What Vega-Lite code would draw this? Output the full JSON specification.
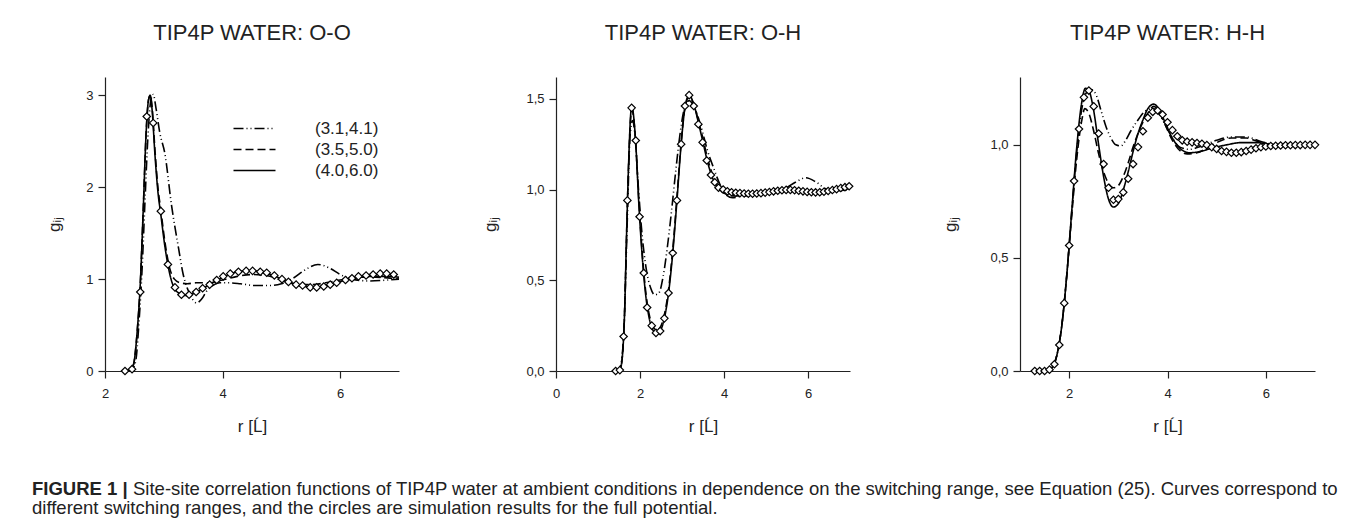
{
  "$schema": "https://vega.github.io/schema/vega-lite/v6.json",
  "padding": {"left": 32, "top": 22, "right": 5, "bottom": 5},
  "config": {
    "font": "Liberation Sans",
    "view": {"stroke": null},
    "axis": {"grid": false, "domainColor": "#222", "tickColor": "#222", "labelColor": "#222", "titleColor": "#222", "tickSize": 7, "labelFontSize": 13, "titleFontSize": 17, "titleFontWeight": "normal", "domainWidth": 1.2, "tickWidth": 1.2, "labelFont": "Liberation Sans", "titleFont": "Liberation Sans", "labelFlush": false},
    "title": {"fontSize": 22, "fontWeight": "normal", "color": "#222", "font": "Liberation Sans"}
  },
  "datasets": {
    "oo_lines": [
      {"r": 2.30, "g": 0.0, "series": "(4.0,6.0)"}, {"r": 2.42, "g": 0.01, "series": "(4.0,6.0)"}, {"r": 2.48, "g": 0.06, "series": "(4.0,6.0)"}, {"r": 2.55, "g": 0.45, "series": "(4.0,6.0)"}, {"r": 2.60, "g": 0.95, "series": "(4.0,6.0)"}, {"r": 2.65, "g": 1.75, "series": "(4.0,6.0)"}, {"r": 2.70, "g": 2.6, "series": "(4.0,6.0)"}, {"r": 2.74, "g": 2.95, "series": "(4.0,6.0)"}, {"r": 2.77, "g": 3.0, "series": "(4.0,6.0)"}, {"r": 2.80, "g": 2.85, "series": "(4.0,6.0)"}, {"r": 2.85, "g": 2.35, "series": "(4.0,6.0)"}, {"r": 2.90, "g": 1.95, "series": "(4.0,6.0)"}, {"r": 2.95, "g": 1.7, "series": "(4.0,6.0)"}, {"r": 3.02, "g": 1.35, "series": "(4.0,6.0)"}, {"r": 3.10, "g": 1.06, "series": "(4.0,6.0)"}, {"r": 3.18, "g": 0.9, "series": "(4.0,6.0)"}, {"r": 3.28, "g": 0.84, "series": "(4.0,6.0)"}, {"r": 3.40, "g": 0.82, "series": "(4.0,6.0)"}, {"r": 3.55, "g": 0.86, "series": "(4.0,6.0)"}, {"r": 3.75, "g": 0.93, "series": "(4.0,6.0)"}, {"r": 4.0, "g": 1.02, "series": "(4.0,6.0)"}, {"r": 4.25, "g": 1.08, "series": "(4.0,6.0)"}, {"r": 4.45, "g": 1.09, "series": "(4.0,6.0)"}, {"r": 4.65, "g": 1.08, "series": "(4.0,6.0)"}, {"r": 4.9, "g": 1.03, "series": "(4.0,6.0)"}, {"r": 5.15, "g": 0.96, "series": "(4.0,6.0)"}, {"r": 5.4, "g": 0.92, "series": "(4.0,6.0)"}, {"r": 5.6, "g": 0.91, "series": "(4.0,6.0)"}, {"r": 5.85, "g": 0.94, "series": "(4.0,6.0)"}, {"r": 6.1, "g": 0.99, "series": "(4.0,6.0)"}, {"r": 6.35, "g": 1.02, "series": "(4.0,6.0)"}, {"r": 6.6, "g": 1.03, "series": "(4.0,6.0)"}, {"r": 6.85, "g": 1.03, "series": "(4.0,6.0)"}, {"r": 7.0, "g": 1.02, "series": "(4.0,6.0)"},
      {"r": 2.30, "g": 0.0, "series": "(3.5,5.0)"}, {"r": 2.42, "g": 0.01, "series": "(3.5,5.0)"}, {"r": 2.48, "g": 0.06, "series": "(3.5,5.0)"}, {"r": 2.55, "g": 0.45, "series": "(3.5,5.0)"}, {"r": 2.60, "g": 0.95, "series": "(3.5,5.0)"}, {"r": 2.65, "g": 1.75, "series": "(3.5,5.0)"}, {"r": 2.70, "g": 2.6, "series": "(3.5,5.0)"}, {"r": 2.74, "g": 2.95, "series": "(3.5,5.0)"}, {"r": 2.77, "g": 3.0, "series": "(3.5,5.0)"}, {"r": 2.80, "g": 2.88, "series": "(3.5,5.0)"}, {"r": 2.85, "g": 2.4, "series": "(3.5,5.0)"}, {"r": 2.90, "g": 2.0, "series": "(3.5,5.0)"}, {"r": 2.95, "g": 1.75, "series": "(3.5,5.0)"}, {"r": 3.02, "g": 1.4, "series": "(3.5,5.0)"}, {"r": 3.10, "g": 1.12, "series": "(3.5,5.0)"}, {"r": 3.18, "g": 1.0, "series": "(3.5,5.0)"}, {"r": 3.28, "g": 0.96, "series": "(3.5,5.0)"}, {"r": 3.40, "g": 0.95, "series": "(3.5,5.0)"}, {"r": 3.55, "g": 0.96, "series": "(3.5,5.0)"}, {"r": 3.75, "g": 0.96, "series": "(3.5,5.0)"}, {"r": 4.0, "g": 0.99, "series": "(3.5,5.0)"}, {"r": 4.25, "g": 1.03, "series": "(3.5,5.0)"}, {"r": 4.5, "g": 1.05, "series": "(3.5,5.0)"}, {"r": 4.75, "g": 1.04, "series": "(3.5,5.0)"}, {"r": 5.0, "g": 0.99, "series": "(3.5,5.0)"}, {"r": 5.25, "g": 0.95, "series": "(3.5,5.0)"}, {"r": 5.5, "g": 0.94, "series": "(3.5,5.0)"}, {"r": 5.75, "g": 0.96, "series": "(3.5,5.0)"}, {"r": 6.0, "g": 0.99, "series": "(3.5,5.0)"}, {"r": 6.3, "g": 1.02, "series": "(3.5,5.0)"}, {"r": 6.6, "g": 1.02, "series": "(3.5,5.0)"}, {"r": 7.0, "g": 1.0, "series": "(3.5,5.0)"},
      {"r": 2.30, "g": 0.0, "series": "(3.1,4.1)"}, {"r": 2.45, "g": 0.01, "series": "(3.1,4.1)"}, {"r": 2.52, "g": 0.1, "series": "(3.1,4.1)"}, {"r": 2.58, "g": 0.55, "series": "(3.1,4.1)"}, {"r": 2.63, "g": 1.1, "series": "(3.1,4.1)"}, {"r": 2.68, "g": 1.85, "series": "(3.1,4.1)"}, {"r": 2.73, "g": 2.55, "series": "(3.1,4.1)"}, {"r": 2.78, "g": 2.95, "series": "(3.1,4.1)"}, {"r": 2.82, "g": 3.01, "series": "(3.1,4.1)"}, {"r": 2.87, "g": 2.85, "series": "(3.1,4.1)"}, {"r": 2.93, "g": 2.6, "series": "(3.1,4.1)"}, {"r": 3.02, "g": 2.36, "series": "(3.1,4.1)"}, {"r": 3.13, "g": 1.81, "series": "(3.1,4.1)"}, {"r": 3.25, "g": 1.34, "series": "(3.1,4.1)"}, {"r": 3.33, "g": 1.05, "series": "(3.1,4.1)"}, {"r": 3.40, "g": 0.9, "series": "(3.1,4.1)"}, {"r": 3.48, "g": 0.79, "series": "(3.1,4.1)"}, {"r": 3.56, "g": 0.74, "series": "(3.1,4.1)"}, {"r": 3.64, "g": 0.78, "series": "(3.1,4.1)"}, {"r": 3.73, "g": 0.87, "series": "(3.1,4.1)"}, {"r": 3.83, "g": 0.93, "series": "(3.1,4.1)"}, {"r": 3.95, "g": 0.96, "series": "(3.1,4.1)"}, {"r": 4.1, "g": 0.96, "series": "(3.1,4.1)"}, {"r": 4.3, "g": 0.95, "series": "(3.1,4.1)"}, {"r": 4.55, "g": 0.93, "series": "(3.1,4.1)"}, {"r": 4.8, "g": 0.93, "series": "(3.1,4.1)"}, {"r": 5.0, "g": 0.95, "series": "(3.1,4.1)"}, {"r": 5.2, "g": 1.01, "series": "(3.1,4.1)"}, {"r": 5.4, "g": 1.1, "series": "(3.1,4.1)"}, {"r": 5.62, "g": 1.16, "series": "(3.1,4.1)"}, {"r": 5.82, "g": 1.12, "series": "(3.1,4.1)"}, {"r": 6.0, "g": 1.05, "series": "(3.1,4.1)"}, {"r": 6.2, "g": 1.0, "series": "(3.1,4.1)"}, {"r": 6.5, "g": 0.98, "series": "(3.1,4.1)"}, {"r": 6.8, "g": 0.99, "series": "(3.1,4.1)"}, {"r": 7.0, "g": 1.0, "series": "(3.1,4.1)"}
    ],
    "oo_sim": [
      {"r": 2.34, "g": 0.0}, {"r": 2.46, "g": 0.02}, {"r": 2.60, "g": 0.86}, {"r": 2.71, "g": 2.77}, {"r": 2.82, "g": 2.70}, {"r": 2.95, "g": 1.74}, {"r": 3.07, "g": 1.16}, {"r": 3.19, "g": 0.91}, {"r": 3.30, "g": 0.83}, {"r": 3.43, "g": 0.83}, {"r": 3.55, "g": 0.86}, {"r": 3.66, "g": 0.90}, {"r": 3.78, "g": 0.94}, {"r": 3.90, "g": 0.99}, {"r": 4.01, "g": 1.03}, {"r": 4.13, "g": 1.06}, {"r": 4.27, "g": 1.08}, {"r": 4.40, "g": 1.09}, {"r": 4.51, "g": 1.09}, {"r": 4.64, "g": 1.08}, {"r": 4.75, "g": 1.07}, {"r": 4.88, "g": 1.04}, {"r": 5.01, "g": 1.00}, {"r": 5.12, "g": 0.97}, {"r": 5.25, "g": 0.94}, {"r": 5.36, "g": 0.93}, {"r": 5.49, "g": 0.91}, {"r": 5.60, "g": 0.91}, {"r": 5.72, "g": 0.92}, {"r": 5.83, "g": 0.94}, {"r": 5.94, "g": 0.96}, {"r": 6.09, "g": 0.99}, {"r": 6.20, "g": 1.01}, {"r": 6.31, "g": 1.03}, {"r": 6.44, "g": 1.04}, {"r": 6.56, "g": 1.05}, {"r": 6.68, "g": 1.06}, {"r": 6.79, "g": 1.06}, {"r": 6.91, "g": 1.05}
    ],
    "oh_lines": [
      {"r": 1.40, "g": 0.0, "series": "(4.0,6.0)"}, {"r": 1.52, "g": 0.005, "series": "(4.0,6.0)"}, {"r": 1.58, "g": 0.08, "series": "(4.0,6.0)"}, {"r": 1.63, "g": 0.3, "series": "(4.0,6.0)"}, {"r": 1.68, "g": 0.75, "series": "(4.0,6.0)"}, {"r": 1.73, "g": 1.15, "series": "(4.0,6.0)"}, {"r": 1.78, "g": 1.42, "series": "(4.0,6.0)"}, {"r": 1.81, "g": 1.46, "series": "(4.0,6.0)"}, {"r": 1.85, "g": 1.4, "series": "(4.0,6.0)"}, {"r": 1.90, "g": 1.25, "series": "(4.0,6.0)"}, {"r": 1.97, "g": 0.93, "series": "(4.0,6.0)"}, {"r": 2.05, "g": 0.64, "series": "(4.0,6.0)"}, {"r": 2.13, "g": 0.43, "series": "(4.0,6.0)"}, {"r": 2.22, "g": 0.29, "series": "(4.0,6.0)"}, {"r": 2.32, "g": 0.22, "series": "(4.0,6.0)"}, {"r": 2.40, "g": 0.205, "series": "(4.0,6.0)"}, {"r": 2.48, "g": 0.22, "series": "(4.0,6.0)"}, {"r": 2.58, "g": 0.29, "series": "(4.0,6.0)"}, {"r": 2.68, "g": 0.43, "series": "(4.0,6.0)"}, {"r": 2.78, "g": 0.65, "series": "(4.0,6.0)"}, {"r": 2.88, "g": 0.94, "series": "(4.0,6.0)"}, {"r": 2.98, "g": 1.25, "series": "(4.0,6.0)"}, {"r": 3.07, "g": 1.45, "series": "(4.0,6.0)"}, {"r": 3.17, "g": 1.52, "series": "(4.0,6.0)"}, {"r": 3.28, "g": 1.47, "series": "(4.0,6.0)"}, {"r": 3.4, "g": 1.36, "series": "(4.0,6.0)"}, {"r": 3.5, "g": 1.26, "series": "(4.0,6.0)"}, {"r": 3.6, "g": 1.16, "series": "(4.0,6.0)"}, {"r": 3.7, "g": 1.08, "series": "(4.0,6.0)"}, {"r": 3.8, "g": 1.03, "series": "(4.0,6.0)"}, {"r": 3.9, "g": 1.0, "series": "(4.0,6.0)"}, {"r": 4.0, "g": 0.985, "series": "(4.0,6.0)"}, {"r": 4.2, "g": 0.975, "series": "(4.0,6.0)"}, {"r": 4.5, "g": 0.97, "series": "(4.0,6.0)"}, {"r": 4.8, "g": 0.975, "series": "(4.0,6.0)"}, {"r": 5.1, "g": 0.985, "series": "(4.0,6.0)"}, {"r": 5.4, "g": 0.995, "series": "(4.0,6.0)"}, {"r": 5.7, "g": 0.995, "series": "(4.0,6.0)"}, {"r": 6.0, "g": 0.985, "series": "(4.0,6.0)"}, {"r": 6.3, "g": 0.985, "series": "(4.0,6.0)"}, {"r": 6.6, "g": 0.995, "series": "(4.0,6.0)"}, {"r": 7.0, "g": 1.01, "series": "(4.0,6.0)"},
      {"r": 1.40, "g": 0.0, "series": "(3.5,5.0)"}, {"r": 1.52, "g": 0.005, "series": "(3.5,5.0)"}, {"r": 1.58, "g": 0.08, "series": "(3.5,5.0)"}, {"r": 1.63, "g": 0.3, "series": "(3.5,5.0)"}, {"r": 1.68, "g": 0.75, "series": "(3.5,5.0)"}, {"r": 1.73, "g": 1.15, "series": "(3.5,5.0)"}, {"r": 1.78, "g": 1.4, "series": "(3.5,5.0)"}, {"r": 1.81, "g": 1.44, "series": "(3.5,5.0)"}, {"r": 1.85, "g": 1.39, "series": "(3.5,5.0)"}, {"r": 1.90, "g": 1.25, "series": "(3.5,5.0)"}, {"r": 1.97, "g": 0.95, "series": "(3.5,5.0)"}, {"r": 2.05, "g": 0.66, "series": "(3.5,5.0)"}, {"r": 2.13, "g": 0.45, "series": "(3.5,5.0)"}, {"r": 2.22, "g": 0.31, "series": "(3.5,5.0)"}, {"r": 2.32, "g": 0.24, "series": "(3.5,5.0)"}, {"r": 2.40, "g": 0.225, "series": "(3.5,5.0)"}, {"r": 2.48, "g": 0.24, "series": "(3.5,5.0)"}, {"r": 2.58, "g": 0.31, "series": "(3.5,5.0)"}, {"r": 2.68, "g": 0.45, "series": "(3.5,5.0)"}, {"r": 2.78, "g": 0.67, "series": "(3.5,5.0)"}, {"r": 2.88, "g": 0.96, "series": "(3.5,5.0)"}, {"r": 2.98, "g": 1.26, "series": "(3.5,5.0)"}, {"r": 3.07, "g": 1.45, "series": "(3.5,5.0)"}, {"r": 3.17, "g": 1.51, "series": "(3.5,5.0)"}, {"r": 3.28, "g": 1.47, "series": "(3.5,5.0)"}, {"r": 3.4, "g": 1.37, "series": "(3.5,5.0)"}, {"r": 3.5, "g": 1.28, "series": "(3.5,5.0)"}, {"r": 3.6, "g": 1.18, "series": "(3.5,5.0)"}, {"r": 3.7, "g": 1.1, "series": "(3.5,5.0)"}, {"r": 3.8, "g": 1.04, "series": "(3.5,5.0)"}, {"r": 3.9, "g": 1.0, "series": "(3.5,5.0)"}, {"r": 4.0, "g": 0.98, "series": "(3.5,5.0)"}, {"r": 4.2, "g": 0.965, "series": "(3.5,5.0)"}, {"r": 4.5, "g": 0.965, "series": "(3.5,5.0)"}, {"r": 4.8, "g": 0.975, "series": "(3.5,5.0)"}, {"r": 5.1, "g": 0.99, "series": "(3.5,5.0)"}, {"r": 5.4, "g": 1.0, "series": "(3.5,5.0)"}, {"r": 5.7, "g": 1.0, "series": "(3.5,5.0)"}, {"r": 6.0, "g": 0.99, "series": "(3.5,5.0)"}, {"r": 6.3, "g": 0.985, "series": "(3.5,5.0)"}, {"r": 6.6, "g": 0.99, "series": "(3.5,5.0)"}, {"r": 7.0, "g": 1.0, "series": "(3.5,5.0)"},
      {"r": 1.40, "g": 0.0, "series": "(3.1,4.1)"}, {"r": 1.50, "g": 0.005, "series": "(3.1,4.1)"}, {"r": 1.60, "g": 0.15, "series": "(3.1,4.1)"}, {"r": 1.70, "g": 0.85, "series": "(3.1,4.1)"}, {"r": 1.76, "g": 1.28, "series": "(3.1,4.1)"}, {"r": 1.82, "g": 1.38, "series": "(3.1,4.1)"}, {"r": 1.88, "g": 1.3, "series": "(3.1,4.1)"}, {"r": 1.95, "g": 1.05, "series": "(3.1,4.1)"}, {"r": 2.05, "g": 0.75, "series": "(3.1,4.1)"}, {"r": 2.15, "g": 0.56, "series": "(3.1,4.1)"}, {"r": 2.25, "g": 0.46, "series": "(3.1,4.1)"}, {"r": 2.35, "g": 0.42, "series": "(3.1,4.1)"}, {"r": 2.45, "g": 0.43, "series": "(3.1,4.1)"}, {"r": 2.55, "g": 0.52, "series": "(3.1,4.1)"}, {"r": 2.65, "g": 0.68, "series": "(3.1,4.1)"}, {"r": 2.75, "g": 0.88, "series": "(3.1,4.1)"}, {"r": 2.85, "g": 1.1, "series": "(3.1,4.1)"}, {"r": 2.95, "g": 1.3, "series": "(3.1,4.1)"}, {"r": 3.05, "g": 1.44, "series": "(3.1,4.1)"}, {"r": 3.17, "g": 1.49, "series": "(3.1,4.1)"}, {"r": 3.3, "g": 1.45, "series": "(3.1,4.1)"}, {"r": 3.45, "g": 1.35, "series": "(3.1,4.1)"}, {"r": 3.6, "g": 1.22, "series": "(3.1,4.1)"}, {"r": 3.75, "g": 1.12, "series": "(3.1,4.1)"}, {"r": 3.9, "g": 1.03, "series": "(3.1,4.1)"}, {"r": 4.05, "g": 0.97, "series": "(3.1,4.1)"}, {"r": 4.2, "g": 0.955, "series": "(3.1,4.1)"}, {"r": 4.35, "g": 0.96, "series": "(3.1,4.1)"}, {"r": 4.6, "g": 0.975, "series": "(3.1,4.1)"}, {"r": 5.0, "g": 0.985, "series": "(3.1,4.1)"}, {"r": 5.4, "g": 1.0, "series": "(3.1,4.1)"}, {"r": 5.7, "g": 1.04, "series": "(3.1,4.1)"}, {"r": 5.95, "g": 1.065, "series": "(3.1,4.1)"}, {"r": 6.2, "g": 1.04, "series": "(3.1,4.1)"}, {"r": 6.45, "g": 1.0, "series": "(3.1,4.1)"}, {"r": 6.7, "g": 0.99, "series": "(3.1,4.1)"}, {"r": 7.0, "g": 1.01, "series": "(3.1,4.1)"}
    ],
    "oh_sim": [
      {"r": 1.42, "g": 0.0}, {"r": 1.52, "g": 0.005}, {"r": 1.61, "g": 0.19}, {"r": 1.70, "g": 0.94}, {"r": 1.80, "g": 1.45}, {"r": 1.90, "g": 1.27}, {"r": 1.99, "g": 0.85}, {"r": 2.09, "g": 0.54}, {"r": 2.17, "g": 0.35}, {"r": 2.28, "g": 0.25}, {"r": 2.38, "g": 0.21}, {"r": 2.48, "g": 0.22}, {"r": 2.58, "g": 0.29}, {"r": 2.68, "g": 0.43}, {"r": 2.78, "g": 0.65}, {"r": 2.88, "g": 0.94}, {"r": 2.98, "g": 1.25}, {"r": 3.07, "g": 1.46}, {"r": 3.17, "g": 1.52}, {"r": 3.28, "g": 1.46}, {"r": 3.39, "g": 1.36}, {"r": 3.49, "g": 1.26}, {"r": 3.59, "g": 1.16}, {"r": 3.69, "g": 1.08}, {"r": 3.78, "g": 1.04}, {"r": 3.87, "g": 1.01}, {"r": 3.98, "g": 1.0}, {"r": 4.08, "g": 0.99}, {"r": 4.18, "g": 0.985}, {"r": 4.28, "g": 0.982}, {"r": 4.38, "g": 0.98}, {"r": 4.48, "g": 0.978}, {"r": 4.58, "g": 0.977}, {"r": 4.68, "g": 0.977}, {"r": 4.78, "g": 0.978}, {"r": 4.88, "g": 0.98}, {"r": 4.98, "g": 0.983}, {"r": 5.08, "g": 0.986}, {"r": 5.18, "g": 0.99}, {"r": 5.28, "g": 0.993}, {"r": 5.38, "g": 0.996}, {"r": 5.48, "g": 0.998}, {"r": 5.58, "g": 0.998}, {"r": 5.68, "g": 0.996}, {"r": 5.78, "g": 0.993}, {"r": 5.88, "g": 0.99}, {"r": 5.98, "g": 0.987}, {"r": 6.08, "g": 0.985}, {"r": 6.18, "g": 0.984}, {"r": 6.28, "g": 0.985}, {"r": 6.38, "g": 0.988}, {"r": 6.48, "g": 0.992}, {"r": 6.58, "g": 0.997}, {"r": 6.68, "g": 1.002}, {"r": 6.78, "g": 1.008}, {"r": 6.88, "g": 1.013}, {"r": 6.98, "g": 1.018}
    ],
    "hh_lines": [
      {"r": 1.3, "g": 0.0, "series": "(4.0,6.0)"}, {"r": 1.55, "g": 0.002, "series": "(4.0,6.0)"}, {"r": 1.65, "g": 0.015, "series": "(4.0,6.0)"}, {"r": 1.75, "g": 0.07, "series": "(4.0,6.0)"}, {"r": 1.85, "g": 0.2, "series": "(4.0,6.0)"}, {"r": 1.95, "g": 0.42, "series": "(4.0,6.0)"}, {"r": 2.05, "g": 0.7, "series": "(4.0,6.0)"}, {"r": 2.15, "g": 0.98, "series": "(4.0,6.0)"}, {"r": 2.25, "g": 1.18, "series": "(4.0,6.0)"}, {"r": 2.33, "g": 1.25, "series": "(4.0,6.0)"}, {"r": 2.4, "g": 1.24, "series": "(4.0,6.0)"}, {"r": 2.5, "g": 1.15, "series": "(4.0,6.0)"}, {"r": 2.6, "g": 1.0, "series": "(4.0,6.0)"}, {"r": 2.7, "g": 0.86, "series": "(4.0,6.0)"}, {"r": 2.8, "g": 0.76, "series": "(4.0,6.0)"}, {"r": 2.9, "g": 0.725, "series": "(4.0,6.0)"}, {"r": 3.0, "g": 0.74, "series": "(4.0,6.0)"}, {"r": 3.1, "g": 0.8, "series": "(4.0,6.0)"}, {"r": 3.2, "g": 0.88, "series": "(4.0,6.0)"}, {"r": 3.3, "g": 0.97, "series": "(4.0,6.0)"}, {"r": 3.4, "g": 1.05, "series": "(4.0,6.0)"}, {"r": 3.5, "g": 1.11, "series": "(4.0,6.0)"}, {"r": 3.6, "g": 1.16, "series": "(4.0,6.0)"}, {"r": 3.72, "g": 1.18, "series": "(4.0,6.0)"}, {"r": 3.82, "g": 1.16, "series": "(4.0,6.0)"}, {"r": 3.95, "g": 1.1, "series": "(4.0,6.0)"}, {"r": 4.1, "g": 1.03, "series": "(4.0,6.0)"}, {"r": 4.25, "g": 0.985, "series": "(4.0,6.0)"}, {"r": 4.45, "g": 0.965, "series": "(4.0,6.0)"}, {"r": 4.65, "g": 0.97, "series": "(4.0,6.0)"}, {"r": 4.9, "g": 0.985, "series": "(4.0,6.0)"}, {"r": 5.2, "g": 1.0, "series": "(4.0,6.0)"}, {"r": 5.5, "g": 1.01, "series": "(4.0,6.0)"}, {"r": 5.8, "g": 1.01, "series": "(4.0,6.0)"}, {"r": 6.2, "g": 1.0, "series": "(4.0,6.0)"}, {"r": 6.6, "g": 1.0, "series": "(4.0,6.0)"}, {"r": 7.0, "g": 1.0, "series": "(4.0,6.0)"},
      {"r": 1.3, "g": 0.0, "series": "(3.5,5.0)"}, {"r": 1.55, "g": 0.002, "series": "(3.5,5.0)"}, {"r": 1.65, "g": 0.015, "series": "(3.5,5.0)"}, {"r": 1.75, "g": 0.07, "series": "(3.5,5.0)"}, {"r": 1.85, "g": 0.2, "series": "(3.5,5.0)"}, {"r": 1.95, "g": 0.42, "series": "(3.5,5.0)"}, {"r": 2.05, "g": 0.68, "series": "(3.5,5.0)"}, {"r": 2.15, "g": 0.93, "series": "(3.5,5.0)"}, {"r": 2.25, "g": 1.1, "series": "(3.5,5.0)"}, {"r": 2.32, "g": 1.16, "series": "(3.5,5.0)"}, {"r": 2.4, "g": 1.14, "series": "(3.5,5.0)"}, {"r": 2.5, "g": 1.06, "series": "(3.5,5.0)"}, {"r": 2.6, "g": 0.96, "series": "(3.5,5.0)"}, {"r": 2.7, "g": 0.88, "series": "(3.5,5.0)"}, {"r": 2.8, "g": 0.83, "series": "(3.5,5.0)"}, {"r": 2.9, "g": 0.81, "series": "(3.5,5.0)"}, {"r": 3.0, "g": 0.82, "series": "(3.5,5.0)"}, {"r": 3.1, "g": 0.86, "series": "(3.5,5.0)"}, {"r": 3.2, "g": 0.92, "series": "(3.5,5.0)"}, {"r": 3.3, "g": 0.99, "series": "(3.5,5.0)"}, {"r": 3.4, "g": 1.05, "series": "(3.5,5.0)"}, {"r": 3.5, "g": 1.1, "series": "(3.5,5.0)"}, {"r": 3.6, "g": 1.14, "series": "(3.5,5.0)"}, {"r": 3.72, "g": 1.17, "series": "(3.5,5.0)"}, {"r": 3.82, "g": 1.15, "series": "(3.5,5.0)"}, {"r": 3.95, "g": 1.09, "series": "(3.5,5.0)"}, {"r": 4.1, "g": 1.02, "series": "(3.5,5.0)"}, {"r": 4.25, "g": 0.975, "series": "(3.5,5.0)"}, {"r": 4.4, "g": 0.96, "series": "(3.5,5.0)"}, {"r": 4.6, "g": 0.965, "series": "(3.5,5.0)"}, {"r": 4.8, "g": 0.985, "series": "(3.5,5.0)"}, {"r": 5.0, "g": 1.01, "series": "(3.5,5.0)"}, {"r": 5.3, "g": 1.03, "series": "(3.5,5.0)"}, {"r": 5.6, "g": 1.03, "series": "(3.5,5.0)"}, {"r": 5.9, "g": 1.01, "series": "(3.5,5.0)"}, {"r": 6.2, "g": 1.0, "series": "(3.5,5.0)"}, {"r": 6.6, "g": 1.0, "series": "(3.5,5.0)"}, {"r": 7.0, "g": 1.0, "series": "(3.5,5.0)"},
      {"r": 1.3, "g": 0.0, "series": "(3.1,4.1)"}, {"r": 1.55, "g": 0.002, "series": "(3.1,4.1)"}, {"r": 1.65, "g": 0.015, "series": "(3.1,4.1)"}, {"r": 1.75, "g": 0.07, "series": "(3.1,4.1)"}, {"r": 1.85, "g": 0.2, "series": "(3.1,4.1)"}, {"r": 1.95, "g": 0.42, "series": "(3.1,4.1)"}, {"r": 2.05, "g": 0.7, "series": "(3.1,4.1)"}, {"r": 2.15, "g": 0.96, "series": "(3.1,4.1)"}, {"r": 2.25, "g": 1.15, "series": "(3.1,4.1)"}, {"r": 2.35, "g": 1.23, "series": "(3.1,4.1)"}, {"r": 2.45, "g": 1.245, "series": "(3.1,4.1)"}, {"r": 2.55, "g": 1.22, "series": "(3.1,4.1)"}, {"r": 2.65, "g": 1.15, "series": "(3.1,4.1)"}, {"r": 2.75, "g": 1.08, "series": "(3.1,4.1)"}, {"r": 2.85, "g": 1.03, "series": "(3.1,4.1)"}, {"r": 2.95, "g": 1.0, "series": "(3.1,4.1)"}, {"r": 3.05, "g": 0.995, "series": "(3.1,4.1)"}, {"r": 3.15, "g": 1.02, "series": "(3.1,4.1)"}, {"r": 3.25, "g": 1.06, "series": "(3.1,4.1)"}, {"r": 3.4, "g": 1.11, "series": "(3.1,4.1)"}, {"r": 3.55, "g": 1.15, "series": "(3.1,4.1)"}, {"r": 3.7, "g": 1.16, "series": "(3.1,4.1)"}, {"r": 3.82, "g": 1.14, "series": "(3.1,4.1)"}, {"r": 3.95, "g": 1.09, "series": "(3.1,4.1)"}, {"r": 4.1, "g": 1.03, "series": "(3.1,4.1)"}, {"r": 4.25, "g": 0.99, "series": "(3.1,4.1)"}, {"r": 4.45, "g": 0.98, "series": "(3.1,4.1)"}, {"r": 4.7, "g": 0.995, "series": "(3.1,4.1)"}, {"r": 5.0, "g": 1.02, "series": "(3.1,4.1)"}, {"r": 5.3, "g": 1.035, "series": "(3.1,4.1)"}, {"r": 5.6, "g": 1.035, "series": "(3.1,4.1)"}, {"r": 5.9, "g": 1.015, "series": "(3.1,4.1)"}, {"r": 6.2, "g": 1.0, "series": "(3.1,4.1)"}, {"r": 6.6, "g": 1.0, "series": "(3.1,4.1)"}, {"r": 7.0, "g": 1.0, "series": "(3.1,4.1)"}
    ],
    "hh_sim": [
      {"r": 1.3, "g": 0.0}, {"r": 1.4, "g": 0.0}, {"r": 1.5, "g": 0.0}, {"r": 1.6, "g": 0.006}, {"r": 1.7, "g": 0.03}, {"r": 1.8, "g": 0.115}, {"r": 1.9, "g": 0.30}, {"r": 2.0, "g": 0.555}, {"r": 2.1, "g": 0.84}, {"r": 2.2, "g": 1.07}, {"r": 2.3, "g": 1.21}, {"r": 2.4, "g": 1.24}, {"r": 2.5, "g": 1.17}, {"r": 2.6, "g": 1.05}, {"r": 2.7, "g": 0.915}, {"r": 2.8, "g": 0.81}, {"r": 2.9, "g": 0.757}, {"r": 3.0, "g": 0.76}, {"r": 3.1, "g": 0.79}, {"r": 3.2, "g": 0.85}, {"r": 3.3, "g": 0.915}, {"r": 3.4, "g": 0.99}, {"r": 3.5, "g": 1.06}, {"r": 3.6, "g": 1.12}, {"r": 3.7, "g": 1.146}, {"r": 3.8, "g": 1.152}, {"r": 3.9, "g": 1.134}, {"r": 4.0, "g": 1.10}, {"r": 4.1, "g": 1.065}, {"r": 4.2, "g": 1.038}, {"r": 4.3, "g": 1.02}, {"r": 4.4, "g": 1.014}, {"r": 4.5, "g": 1.011}, {"r": 4.6, "g": 1.008}, {"r": 4.7, "g": 1.005}, {"r": 4.8, "g": 0.999}, {"r": 4.9, "g": 0.99}, {"r": 5.0, "g": 0.982}, {"r": 5.1, "g": 0.973}, {"r": 5.2, "g": 0.969}, {"r": 5.3, "g": 0.965}, {"r": 5.4, "g": 0.965}, {"r": 5.5, "g": 0.968}, {"r": 5.6, "g": 0.973}, {"r": 5.7, "g": 0.979}, {"r": 5.8, "g": 0.985}, {"r": 5.9, "g": 0.99}, {"r": 6.0, "g": 0.993}, {"r": 6.1, "g": 0.995}, {"r": 6.2, "g": 0.996}, {"r": 6.3, "g": 0.997}, {"r": 6.4, "g": 0.998}, {"r": 6.5, "g": 0.998}, {"r": 6.6, "g": 0.999}, {"r": 6.7, "g": 0.999}, {"r": 6.8, "g": 1.0}, {"r": 6.9, "g": 1.0}, {"r": 7.0, "g": 1.0}
    ],
    "caption": [
      {"line": 1, "part": "bold", "text": "FIGURE 1 |"},
      {"line": 1, "part": "regular", "text": "Site-site correlation functions of TIP4P water at ambient conditions in dependence on the switching range, see Equation (25). Curves correspond to"},
      {"line": 2, "part": "line2", "text": "different switching ranges, and the circles are simulation results for the full potential."}
    ]
  },
  "vconcat": [
    {
      "hconcat": [
        {
          "hconcat": [
            {
              "width": 294, "height": 294,
              "title": {"text": "TIP4P WATER: O-O", "offset": 32},
              "layer": [
                {
                  "data": {"name": "oo_lines"},
                  "mark": {"type": "line", "interpolate": "monotone", "color": "black", "strokeWidth": 1.6},
                  "encoding": {
                    "x": {"field": "r", "type": "quantitative", "scale": {"domain": [2, 7], "nice": false, "zero": false}, "axis": {"values": [2, 4, 6], "format": "d", "title": "r [Ĺ]", "labelPadding": 9, "titlePadding": 18}},
                    "y": {"field": "g", "type": "quantitative", "scale": {"domain": [0, 3.2], "nice": false}, "axis": {"values": [0, 1, 2, 3], "format": "d", "title": "gᵢⱼ", "titlePadding": 22, "labelPadding": 5}},
                    "strokeDash": {"field": "series", "type": "nominal", "scale": {"domain": ["(3.1,4.1)", "(3.5,5.0)", "(4.0,6.0)"], "range": [[10, 3, 1, 3, 1, 3], [8, 4], [1, 0]]},
                      "legend": {"orient": "none", "legendX": 138, "legendY": 40, "title": null, "symbolType": "M-2,0H2", "symbolSize": 441, "symbolStrokeWidth": 1.6, "symbolStrokeColor": "black", "labelFontSize": 17, "labelColor": "#222", "labelOffset": 49, "rowPadding": 1}}
                  }
                },
                {
                  "data": {"name": "oo_sim"},
                  "mark": {"type": "point", "shape": "diamond", "filled": true, "fill": "white", "stroke": "black", "strokeWidth": 1.2, "size": 55, "opacity": 1},
                  "encoding": {"x": {"field": "r", "type": "quantitative"}, "y": {"field": "g", "type": "quantitative"}}
                }
              ]
            },
            {
              "width": 294, "height": 294,
              "title": {"text": "TIP4P WATER: O-H", "offset": 32},
              "layer": [
                {
                  "data": {"name": "oh_lines"},
                  "mark": {"type": "line", "interpolate": "monotone", "color": "black", "strokeWidth": 1.6},
                  "encoding": {
                    "x": {"field": "r", "type": "quantitative", "scale": {"domain": [0, 7], "nice": false, "zero": false}, "axis": {"values": [0, 2, 4, 6], "format": "d", "title": "r [Ĺ]", "labelPadding": 9, "titlePadding": 18}},
                    "y": {"field": "g", "type": "quantitative", "scale": {"domain": [0, 1.62], "nice": false}, "axis": {"values": [0, 0.5, 1, 1.5], "labelExpr": "replace(format(datum.value, '.1f'), '.', ',')", "title": "gᵢⱼ", "titlePadding": 26, "labelPadding": 5}},
                    "strokeDash": {"field": "series", "type": "nominal", "scale": {"domain": ["(3.1,4.1)", "(3.5,5.0)", "(4.0,6.0)"], "range": [[10, 3, 1, 3, 1, 3], [8, 4], [1, 0]]}, "legend": null}
                  }
                },
                {
                  "data": {"name": "oh_sim"},
                  "mark": {"type": "point", "shape": "diamond", "filled": true, "fill": "white", "stroke": "black", "strokeWidth": 1.2, "size": 55, "opacity": 1},
                  "encoding": {"x": {"field": "r", "type": "quantitative"}, "y": {"field": "g", "type": "quantitative"}}
                }
              ]
            }
          ],
          "spacing": 78,
          "resolve": {"scale": {"strokeDash": "independent"}, "legend": {"strokeDash": "independent"}}
        },
        {
          "width": 295, "height": 294,
          "title": {"text": "TIP4P WATER: H-H", "offset": 32},
          "layer": [
            {
              "data": {"name": "hh_lines"},
              "mark": {"type": "line", "interpolate": "monotone", "color": "black", "strokeWidth": 1.6},
              "encoding": {
                "x": {"field": "r", "type": "quantitative", "scale": {"domain": [1, 7], "nice": false, "zero": false}, "axis": {"values": [2, 4, 6], "format": "d", "title": "r [Ĺ]", "labelPadding": 9, "titlePadding": 18}},
                "y": {"field": "g", "type": "quantitative", "scale": {"domain": [0, 1.3], "nice": false}, "axis": {"values": [0, 0.5, 1], "labelExpr": "replace(format(datum.value, '.1f'), '.', ',')", "title": "gᵢⱼ", "titlePadding": 30, "labelPadding": 5}},
                "strokeDash": {"field": "series", "type": "nominal", "scale": {"domain": ["(3.1,4.1)", "(3.5,5.0)", "(4.0,6.0)"], "range": [[10, 3, 1, 3, 1, 3], [8, 4], [1, 0]]}, "legend": null}
              }
            },
            {
              "data": {"name": "hh_sim"},
              "mark": {"type": "point", "shape": "diamond", "filled": true, "fill": "white", "stroke": "black", "strokeWidth": 1.2, "size": 55, "opacity": 1},
              "encoding": {"x": {"field": "r", "type": "quantitative"}, "y": {"field": "g", "type": "quantitative"}}
            }
          ]
        }
      ],
      "spacing": 85,
      "resolve": {"scale": {"strokeDash": "independent"}, "legend": {"strokeDash": "independent"}}
    },
    {
      "width": 1300, "height": 38,
      "data": {"name": "caption"},
      "layer": [
        {
          "transform": [{"filter": "datum.part == 'bold'"}],
          "mark": {"type": "text", "align": "left", "baseline": "middle", "fontSize": 18.5, "fontWeight": "bold", "color": "#222", "dx": -73},
          "encoding": {"x": {"value": 0}, "y": {"field": "line", "type": "ordinal", "axis": null}, "text": {"field": "text"}}
        },
        {
          "transform": [{"filter": "datum.part == 'regular'"}],
          "mark": {"type": "text", "align": "left", "baseline": "middle", "fontSize": 18.5, "color": "#222", "dx": 28},
          "encoding": {"x": {"value": 0}, "y": {"field": "line", "type": "ordinal", "axis": null}, "text": {"field": "text"}}
        },
        {
          "transform": [{"filter": "datum.part == 'line2'"}],
          "mark": {"type": "text", "align": "left", "baseline": "middle", "fontSize": 18.5, "color": "#222", "dx": -73},
          "encoding": {"x": {"value": 0}, "y": {"field": "line", "type": "ordinal", "axis": null}, "text": {"field": "text"}}
        }
      ]
    }
  ],
  "spacing": 45
}
